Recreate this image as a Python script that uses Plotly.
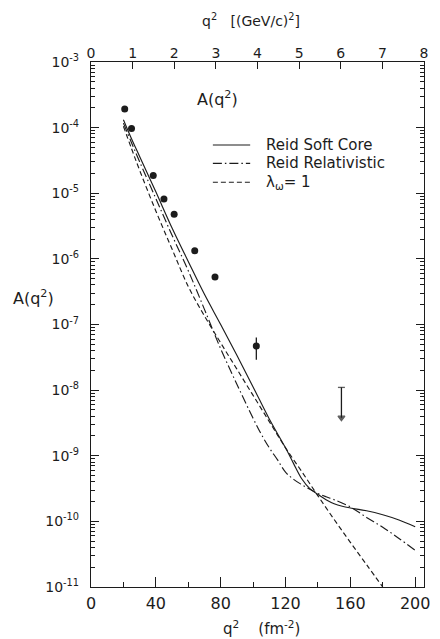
import plotly.graph_objects as go

# ---- data ----
# experimental points  (q^2 in fm^-2, A(q^2))
pts_q2 = [20.8, 25.0, 38.4, 45.0, 51.3, 64.0, 76.5, 102.0]
pts_A = [1.92e-4, 9.7e-5, 1.87e-5, 8.2e-6, 4.8e-6, 1.33e-6, 5.3e-7, 4.7e-8]
pts_err_plus = [0, 0, 0, 0, 0, 0, 0, 1.65e-8]
pts_err_minus = [0, 0, 0, 0, 0, 0, 0, 1.8e-8]

# upper limit
ul_q2 = [154.5, 154.5]
ul_A = [1.1e-8, 3.8e-9]

# Reid Soft Core (solid)
rsc_q2 = [20, 25, 30, 40, 50, 60, 70, 80, 90, 100, 110, 120, 125, 130, 135, 140,
          145, 150, 155, 160, 170, 180, 190, 200]
rsc_A = [1.32e-4, 6.76e-5, 3.63e-5, 1.05e-5, 2.95e-6, 9.12e-7, 2.88e-7, 1.0e-7,
         3.39e-8, 1.12e-8, 3.63e-9, 1.32e-9, 7.59e-10, 4.47e-10, 3.16e-10, 2.57e-10,
         2.14e-10, 1.86e-10, 1.70e-10, 1.60e-10, 1.45e-10, 1.26e-10, 1.05e-10, 8.3e-11]

# Reid Relativistic (dash-dot)
rr_q2 = [20, 25, 30, 40, 50, 60, 70, 80, 90, 100, 105, 110, 115, 120, 125, 130, 135,
         140, 145, 150, 160, 170, 180, 190, 200]
rr_A = [1.17e-4, 5.89e-5, 3.02e-5, 8.32e-6, 2.29e-6, 6.61e-7, 1.70e-7, 4.27e-8,
        1.23e-8, 3.72e-9, 2.14e-9, 1.32e-9, 8.71e-10, 5.62e-10, 4.37e-10, 3.63e-10,
        3.09e-10, 2.66e-10, 2.37e-10, 2.14e-10, 1.66e-10, 1.15e-10, 8.13e-11,
        5.50e-11, 3.63e-11]

# lambda_omega = 1 (dashed)
lw_q2 = [20, 25, 30, 40, 50, 60, 70, 80, 90, 100, 110, 120, 130, 140, 150, 160, 170, 180]
lw_A = [1.05e-4, 4.79e-5, 2.24e-5, 5.37e-6, 1.41e-6, 3.80e-7, 1.35e-7, 5.25e-8,
        2.09e-8, 8.32e-9, 3.31e-9, 1.32e-9, 5.75e-10, 2.45e-10, 1.07e-10, 4.79e-11,
        2.19e-11, 1.0e-11]

series_names = ["Reid Soft Core", "Reid Relativistic", "λ<sub>ω</sub>= 1"]

# axis ticks
fm_major = [0, 40, 80, 120, 160, 200]
fm_minor = [20, 60, 100, 140, 180]
gev_ticks = [0, 1, 2, 3, 4, 5, 6, 7, 8]
exps = [-11, -10, -9, -8, -7, -6, -5, -4, -3]

FM_PER_GEV2 = 25.68
FONT = "DejaVu Sans"
INK = "#1c1c1c"
DASHES = ["solid", "9px,3px,1.5px,3px", "5px,3px"]

y_tickvals = [10.0 ** e for e in exps]
y_ticktext = ["10<sup>%d</sup>" % e for e in exps]
y_minor = [m * 10.0 ** e for e in exps[:-1] for m in range(2, 10)]

fig = go.Figure()

for xs, ys, nm, ds in zip([rsc_q2, rr_q2, lw_q2], [rsc_A, rr_A, lw_A], series_names, DASHES):
    fig.add_trace(go.Scatter(x=xs, y=ys, mode="lines", line_shape="spline",
                             line=dict(color=INK, width=1.15, dash=ds), name=nm,
                             showlegend=False))

fig.add_trace(go.Scatter(x=pts_q2, y=pts_A, mode="markers", showlegend=False,
                         marker=dict(color=INK, size=7, symbol="circle"),
                         error_y=dict(type="data", symmetric=False, array=pts_err_plus,
                                      arrayminus=pts_err_minus, color=INK,
                                      thickness=1.3, width=0)))
fig.add_trace(go.Scatter(x=ul_q2, y=ul_A, mode="lines+markers", showlegend=False,
                         line=dict(color=INK, width=1.3),
                         marker=dict(color=INK, size=[5, 6],
                                     symbol=["line-ew", "triangle-down"],
                                     line=dict(color=INK, width=1.3))))
# dummy trace so the top (GeV/c)^2 axis is drawn
fig.add_trace(go.Scatter(x=gev_ticks, y=[None] * len(gev_ticks), xaxis="x2",
                         mode="markers", showlegend=False, hoverinfo="skip"))

# hand-made legend (keys + labels), positioned in paper coordinates
leg_rows_y = [0.842, 0.807, 0.771]
for ry, nm, ds in zip(leg_rows_y, series_names, DASHES):
    fig.add_shape(type="line", xref="paper", yref="paper", x0=0.366, x1=0.478,
                  y0=ry, y1=ry, line=dict(color=INK, width=1.15, dash=ds))
    fig.add_annotation(text=nm, xref="paper", yref="paper", x=0.52, y=ry,
                       xanchor="left", yanchor="middle", showarrow=False,
                       font=dict(size=15))

fig.update_layout(
    width=440, height=639,
    margin=dict(l=91, r=10, t=62, b=52),
    paper_bgcolor="white", plot_bgcolor="white",
    font=dict(family=FONT, size=14, color=INK),
    showlegend=False,
    xaxis=dict(range=[0, 8 * FM_PER_GEV2], tickmode="array", tickvals=fm_major,
               ticktext=[str(v) for v in fm_major], ticks="inside", ticklen=10,
               tickcolor=INK, tickwidth=1, showline=True, linecolor=INK,
               linewidth=1.2, mirror=True, showgrid=False, zeroline=False,
               tickfont=dict(size=16), ticklabelstandoff=2,
               minor=dict(tickmode="array", tickvals=fm_minor, ticks="inside",
                          ticklen=5, tickcolor=INK, showgrid=False)),
    xaxis2=dict(range=[0, 8], overlaying="x", side="top", anchor="y",
                tickmode="array", tickvals=gev_ticks,
                ticktext=[str(v) for v in gev_ticks], ticks="inside", ticklen=7,
                tickcolor=INK, showline=False, showgrid=False, zeroline=False,
                tickfont=dict(size=14)),
    yaxis=dict(type="log", range=[-11, -3], tickmode="array", tickvals=y_tickvals,
               ticktext=y_ticktext, ticks="inside", ticklen=8, tickcolor=INK,
               showline=True, linecolor=INK, linewidth=1.2, mirror="ticks",
               showgrid=False, zeroline=False, tickfont=dict(size=14),
               ticklabelstandoff=8,
               minor=dict(tickmode="array", tickvals=y_minor, ticks="inside",
                          ticklen=4, tickcolor=INK, showgrid=False)),
)

fig.add_annotation(text="q<sup>2</sup>   [(GeV/c)<sup>2</sup>]", xref="paper", yref="paper",
                   x=0.481, y=1.08, xanchor="center", yanchor="middle",
                   showarrow=False, font=dict(size=14))
fig.add_annotation(text="q<sup>2</sup>    (fm<sup>-2</sup>)", xref="paper", yref="paper",
                   x=0.513, y=-0.078, xanchor="center", yanchor="middle",
                   showarrow=False, font=dict(size=15))
fig.add_annotation(text="A(q<sup>2</sup>)", xref="paper", yref="paper",
                   x=-0.174, y=0.552, xanchor="center", yanchor="middle",
                   showarrow=False, font=dict(size=16))
fig.add_annotation(text="A(q<sup>2</sup>)", xref="paper", yref="paper",
                   x=0.381, y=0.931, xanchor="center", yanchor="middle",
                   showarrow=False, font=dict(size=16))

fig.write_html("out.html", config={"displayModeBar": False},
               post_script="document.body.style.margin='0';"
                           "document.documentElement.style.overflow='hidden';")
